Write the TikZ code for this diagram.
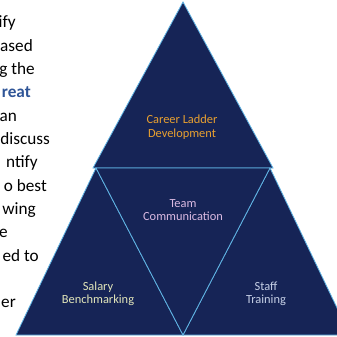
\documentclass[tikz,border=0pt]{standalone}
\usepackage{fontspec}
\setmainfont{Carlito}
\usepackage{tikz}
\usetikzlibrary{positioning}
\definecolor{tier-navy}{RGB}{22,36,86}
\definecolor{tier-edge}{RGB}{96,180,228}
\definecolor{career-gold}{RGB}{232,160,48}
\definecolor{team-lilac}{RGB}{218,186,226}
\definecolor{salary-cream}{RGB}{226,230,186}
\definecolor{staff-grey}{RGB}{198,208,230}
\definecolor{body-blue}{RGB}{47,85,151}
\tikzset{
  pyramid-tier/.style={draw=tier-edge, fill=tier-navy, line width=0.8pt, line join=miter},
  tier-label/.style={align=center, inner sep=0pt, font=\fontsize{12.4}{13.5}\selectfont},
  body-line/.style={anchor=base east, inner sep=0pt, font=\fontsize{17.2}{23}\selectfont}
}

\begin{document}
\begin{tikzpicture}[x=1pt,y=-1pt]
  \useasboundingbox (0,0) rectangle (337,337);
  % tiers
  \coordinate (apex) at (183,2);
  \coordinate (mid-l) at (96,168);
  \coordinate (mid-r) at (270,168);
  \coordinate (base-l) at (16,335);
  \coordinate (base-m) at (183,335);
  \coordinate (base-r) at (350,335);
  \path[pyramid-tier] (apex) -- (93,168) -- (273,168) -- cycle;
  \path[pyramid-tier] (mid-l) -- (base-l) -- (base-m) -- cycle;
  \path[pyramid-tier] (mid-r) -- (base-m) -- (base-r) -- cycle;
  \path[pyramid-tier] (mid-l) -- (mid-r) -- (base-m) -- cycle;
  \node[tier-label, text=career-gold] (career) at (182,127) {Career Ladder\\Development};
  \node[tier-label, text=team-lilac] (team) at (183,210) {Team\\Communication};
  \node[tier-label, text=salary-cream] (salary) at (98,294) {Salary\\Benchmarking};
  \node[tier-label, text=staff-grey] (staff) at (266,294) {Staff\\Training};
  % body text cut at the page edge
  \foreach \txt/\xr/\yb [count=\i] in {ify/16/28, ased/33/51.3, g the/35/74.6,
      {\color{body-blue}\bfseries reat}/31/97.9, an/17/121.2, discuss/50/144.5,
      ntify/38/167.8, o best/47/191.1, wing/36/214.4, e/8/237.7, ed to/39/261, er/16/307.6}
    \node[body-line] (body-\i) at (\xr,\yb) {\txt};
\end{tikzpicture}
\end{document}
